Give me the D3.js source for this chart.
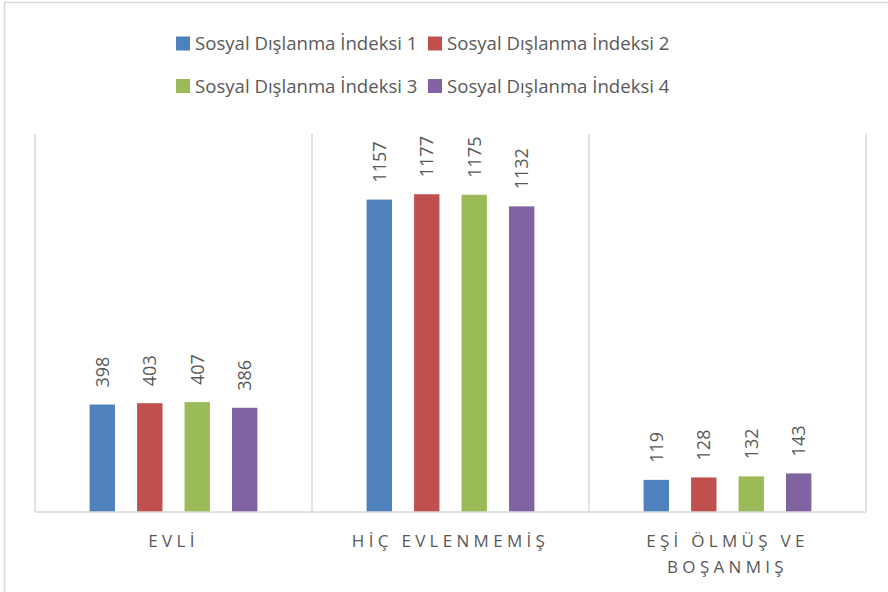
<!DOCTYPE html>
<html>
<head>
<meta charset="utf-8">
<script src="https://cdn.jsdelivr.net/npm/d3@7"></script>
<style>
  html, body { margin: 0; padding: 0; background: #fff; }
  svg { display: block; font-family: "Open Sans", "Liberation Sans", sans-serif; }
</style>
</head>
<body>
<svg id="chart" width="888" height="592"></svg>
<script>
// Marital status groups (line breaks split with "\n")
const categories = ["EVLİ", "HİÇ EVLENMEMİŞ", "EŞİ ÖLMÜŞ VE\nBOŞANMIŞ"];
const seriesNames = ["Sosyal Dışlanma İndeksi 1", "Sosyal Dışlanma İndeksi 2",
                     "Sosyal Dışlanma İndeksi 3", "Sosyal Dışlanma İndeksi 4"];
const index1 = [398, 1157, 119];
const index2 = [403, 1177, 128];
const index3 = [407, 1175, 132];
const index4 = [386, 1132, 143];
const seriesColors = ["#4f81bd", "#c0504d", "#9bbb59", "#8064a2"];

const seriesValues = [index1, index2, index3, index4];

const svg = d3.select("#chart");
const W = 888, H = 592;
const plot = { left: 35, right: 866, top: 134, bottom: 512 };

// outer chart frame
svg.append("rect")
  .attr("x", 4.5).attr("y", 2.5)
  .attr("width", W + 10).attr("height", H + 10)
  .attr("fill", "none").attr("stroke", "#d9d9d9").attr("stroke-width", 1.5);

const x0 = d3.scaleBand().domain(d3.range(categories.length))
  .range([plot.left, plot.right]).paddingInner(0).paddingOuter(0);
const x1 = d3.scaleBand().domain(d3.range(seriesNames.length))
  .range([0, x0.bandwidth()]).paddingInner(0.465).paddingOuter(1.15);
const y = d3.scaleLinear().domain([0, 1400]).range([plot.bottom, plot.top]);

// category separators
const seps = d3.range(categories.length + 1).map(i => i < categories.length ? x0(i) : plot.right);
svg.append("g").selectAll("line").data(seps).join("line")
  .attr("x1", d => d).attr("x2", d => d)
  .attr("y1", plot.top).attr("y2", plot.bottom)
  .attr("stroke", "#d9d9d9").attr("stroke-width", 1.5);

// bars with rotated value labels
const groups = svg.append("g").selectAll("g").data(categories).join("g")
  .attr("transform", (d, i) => `translate(${x0(i)},0)`);

groups.each(function (cat, ci) {
  const g = d3.select(this);
  seriesValues.forEach((vals, si) => {
    const v = vals[ci];
    const bx = x1(si);
    g.append("rect")
      .attr("x", bx).attr("y", y(v))
      .attr("width", x1.bandwidth()).attr("height", y(0) - y(v))
      .attr("fill", seriesColors[si]);
    g.append("text")
      .attr("transform", `translate(${bx + x1.bandwidth() / 2},${y(v) - 17}) rotate(-90)`)
      .attr("dy", "0.35em")
      .attr("text-anchor", "start")
      .attr("fill", "#595959")
      .attr("font-size", 18)
      .text(v);
  });
});

// baseline
svg.append("line")
  .attr("x1", plot.left).attr("x2", plot.right)
  .attr("y1", plot.bottom).attr("y2", plot.bottom)
  .attr("stroke", "#d9d9d9").attr("stroke-width", 1.5);

// category labels
const catLabels = svg.append("g").selectAll("text").data(categories).join("text")
  .attr("x", (d, i) => x0(i) + x0.bandwidth() / 2)
  .attr("y", 547)
  .attr("text-anchor", "middle")
  .attr("fill", "#595959")
  .attr("font-size", 17)
  .attr("letter-spacing", "4.3px");
catLabels.each(function (d) {
  const t = d3.select(this);
  const cx = +t.attr("x");
  d.split("\n").forEach((line, li) => {
    t.append("tspan").attr("x", cx).attr("dy", li === 0 ? 0 : 26).text(line);
  });
});

// legend
const legendPos = [[176, 43.5], [428, 43.5], [176, 86], [428, 86]];
const legend = svg.append("g").selectAll("g").data(seriesNames).join("g")
  .attr("transform", (d, i) => `translate(${legendPos[i][0]},${legendPos[i][1]})`);
legend.append("rect")
  .attr("x", 0).attr("y", -7).attr("width", 14).attr("height", 14)
  .attr("fill", (d, i) => seriesColors[i]);
legend.append("text")
  .attr("x", 19).attr("y", 0).attr("dy", "0.35em")
  .attr("fill", "#595959").attr("font-size", 18.6)
  .text(d => d);
</script>
</body>
</html>
